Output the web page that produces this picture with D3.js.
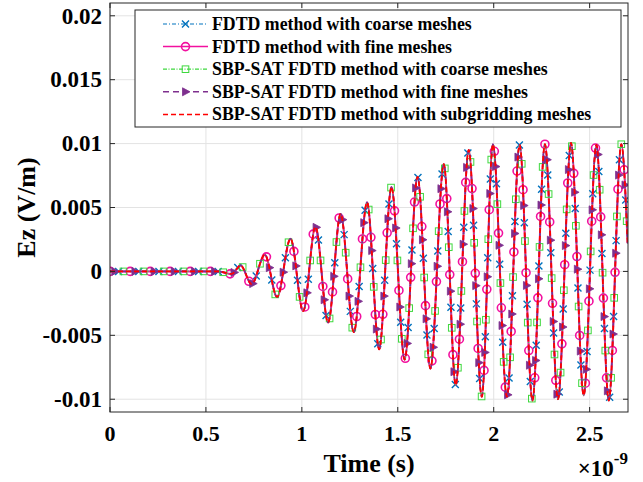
<!DOCTYPE html>
<html>
<head>
<meta charset="utf-8">
<script src="https://cdn.jsdelivr.net/npm/d3@7"></script>
<style>
  html, body { margin: 0; padding: 0; background: #fff; }
  text { font-family: "Liberation Serif", "Times New Roman", serif; font-weight: bold; fill: #000; }
</style>
</head>
<body>
<svg id="chart" width="643" height="482"></svg>
<script>
// Ez at the probe: extrema of the wave (time in ns, Ez in V/m)
const timeNs = [0, 0.30, 0.5625, 0.634, 0.681, 0.738, 0.807, 0.871, 0.941, 1.007, 1.071, 1.137,
  1.202, 1.271, 1.340, 1.403, 1.467, 1.536, 1.603, 1.670, 1.740, 1.802, 1.870, 1.938, 1.996,
  2.069, 2.135, 2.202, 2.267, 2.335, 2.403, 2.469, 2.535, 2.600, 2.665, 2.698];
const ezValues = [0, 0, 0, -0.0002, 0.00047, -0.001, 0.0013, -0.002, 0.00256, -0.0031, 0.0035, -0.004,
  0.0045, -0.00475, 0.0054, -0.0061, 0.0066, -0.0069, 0.0074, -0.0076, 0.0084, -0.0089, 0.0095, -0.0098, 0.00995,
  -0.0098, 0.0099, -0.0101, 0.00995, -0.0100, 0.01005, -0.0097, 0.0099, -0.0101, 0.00995, 0.0022];

const seriesNames = [
  "FDTD method with coarse meshes",
  "FDTD method with fine meshes",
  "SBP-SAT FDTD method with coarse meshes",
  "SBP-SAT FDTD method with fine meshes",
  "SBP-SAT FDTD method with subgridding meshes"
];
const xTicks = [0, 0.5, 1, 1.5, 2, 2.5];
const xTickLabels = ["0", "0.5", "1", "1.5", "2", "2.5"];
const yTicks = [-0.01, -0.005, 0, 0.005, 0.01, 0.015, 0.02];
const yTickLabels = ["-0.01", "-0.005", "0", "0.005", "0.01", "0.015", "0.02"];

// line styles per series (same order as seriesNames)
const styles = [
  { color: "#0072bd", dash: "4,2,1,2", width: 1.2, marker: "x",  offset: 8 },
  { color: "#f2109f", dash: null,      width: 2,   marker: "o",  offset: 0 },
  { color: "#3ed83e", dash: "4,1.5,1,1.5", width: 1.2, marker: "s", offset: 13 },
  { color: "#7e2f8e", dash: "6,4",     width: 1.6, marker: ">",  offset: 4 },
  { color: "#ff0000", dash: "5,3",     width: 1.8, marker: null, offset: 0 }
];

const svg = d3.select("#chart");
const plot = { left: 110, right: 628, top: 3, bottom: 412 };

const x = d3.scaleLinear().domain([0, 2.7]).range([plot.left, plot.right]);
const y = d3.scaleLinear().domain([-0.011, 0.021]).range([plot.bottom, plot.top]);

svg.append("rect").attr("width", 643).attr("height", 482).attr("fill", "#fff");

// grid
const grid = svg.append("g").attr("stroke", "#e3e3e3").attr("stroke-width", 1);
xTicks.forEach(t => grid.append("line").attr("x1", x(t)).attr("x2", x(t)).attr("y1", plot.top).attr("y2", plot.bottom));
yTicks.forEach(t => grid.append("line").attr("y1", y(t)).attr("y2", y(t)).attr("x1", plot.left).attr("x2", plot.right));

svg.append("defs").append("clipPath").attr("id", "clip")
  .append("rect").attr("x", plot.left).attr("y", plot.top)
  .attr("width", plot.right - plot.left).attr("height", plot.bottom - plot.top);

const data = timeNs.map((t, i) => ({ t, v: ezValues[i] }));
const line = d3.line().x(d => x(d.t)).y(d => y(d.v)).curve(d3.curveMonotoneX);

// trace the same curve into a polyline so markers can sit on it
function tracePoints() {
  const pts = [];
  let cx = 0, cy = 0;
  const ctx = {
    moveTo(a, b) { cx = a; cy = b; pts.push([a, b]); },
    lineTo(a, b) { cx = a; cy = b; pts.push([a, b]); },
    bezierCurveTo(x1, y1, x2, y2, x3, y3) {
      for (let k = 1; k <= 60; k++) {
        const u = k / 60, w = 1 - u;
        pts.push([w*w*w*cx + 3*w*w*u*x1 + 3*w*u*u*x2 + u*u*u*x3,
                  w*w*w*cy + 3*w*w*u*y1 + 3*w*u*u*y2 + u*u*u*y3]);
      }
      cx = x3; cy = y3;
    },
    closePath() {}
  };
  d3.line().x(d => x(d.t)).y(d => y(d.v)).curve(d3.curveMonotoneX).context(ctx)(data);
  return pts;
}
const curvePts = tracePoints();

function drawMarker(g, kind, cx, cy, color) {
  if (kind === "x") {
    g.append("path").attr("d", `M${cx-3.5},${cy-3.5}L${cx+3.5},${cy+3.5}M${cx-3.5},${cy+3.5}L${cx+3.5},${cy-3.5}`)
      .attr("stroke", color).attr("stroke-width", 1.4).attr("fill", "none");
  } else if (kind === "o") {
    g.append("circle").attr("cx", cx).attr("cy", cy).attr("r", 4)
      .attr("stroke", color).attr("stroke-width", 1.6).attr("fill", "none");
  } else if (kind === "s") {
    g.append("rect").attr("x", cx - 3.3).attr("y", cy - 3.3).attr("width", 6.6).attr("height", 6.6)
      .attr("stroke", color).attr("stroke-width", 1).attr("fill", "none");
  } else if (kind === ">") {
    g.append("path").attr("d", `M${cx-3},${cy-4}L${cx+4.5},${cy}L${cx-3},${cy+4}Z`)
      .attr("fill", color).attr("stroke", color).attr("stroke-width", 0.8);
  }
}

const plotG = svg.append("g").attr("clip-path", "url(#clip)");
styles.forEach(st => {
  plotG.append("path").datum(data).attr("d", line)
    .attr("fill", "none").attr("stroke", st.color).attr("stroke-width", st.width)
    .attr("stroke-dasharray", st.dash);
  if (!st.marker) return;
  // markers spaced along the curve (vertical travel weighted less)
  const mg = plotG.append("g");
  let acc = -st.offset;
  const spacing = 20;
  for (let k = 0; k < curvePts.length; k++) {
    if (k > 0) {
      const dx = curvePts[k][0] - curvePts[k-1][0], dy = (curvePts[k][1] - curvePts[k-1][1]) / 4;
      acc += Math.sqrt(dx * dx + dy * dy);
    }
    if (acc >= 0) { drawMarker(mg, st.marker, curvePts[k][0], curvePts[k][1], st.color); acc -= spacing; }
  }
});

// axes box and ticks
const axis = svg.append("g").attr("stroke", "#262626").attr("stroke-width", 1).attr("fill", "none");
axis.append("rect").attr("x", plot.left).attr("y", plot.top)
  .attr("width", plot.right - plot.left).attr("height", plot.bottom - plot.top);
xTicks.forEach(t => {
  axis.append("line").attr("x1", x(t)).attr("x2", x(t)).attr("y1", plot.bottom).attr("y2", plot.bottom - 5);
  axis.append("line").attr("x1", x(t)).attr("x2", x(t)).attr("y1", plot.top).attr("y2", plot.top + 5);
});
yTicks.forEach(t => {
  axis.append("line").attr("y1", y(t)).attr("y2", y(t)).attr("x1", plot.left).attr("x2", plot.left + 5);
  axis.append("line").attr("y1", y(t)).attr("y2", y(t)).attr("x1", plot.right).attr("x2", plot.right - 5);
});

svg.selectAll(".xtl").data(xTicks).join("text").attr("class", "xtl")
  .attr("x", d => x(d)).attr("y", 441).attr("text-anchor", "middle").style("font-size", "22px")
  .text((d, i) => xTickLabels[i]);
svg.selectAll(".ytl").data(yTicks).join("text").attr("class", "ytl")
  .attr("x", 102).attr("y", d => y(d) + 7.8).attr("text-anchor", "end").style("font-size", "23px")
  .text((d, i) => yTickLabels[i]);

svg.append("text").attr("x", (plot.left + plot.right) / 2).attr("y", 472)
  .attr("text-anchor", "middle").style("font-size", "26px").text("Time (s)");
svg.append("text").attr("transform", `translate(35,${(plot.top + plot.bottom) / 2}) rotate(-90)`)
  .attr("text-anchor", "middle").style("font-size", "26px").text("Ez (V/m)");

const expo = svg.append("text").attr("x", 628).attr("y", 476).attr("text-anchor", "end").style("font-size", "23px");
expo.append("tspan").text("\u00d710");
expo.append("tspan").attr("dy", -12).style("font-size", "17px").text("-9");

// legend
const lg = svg.append("g");
lg.append("rect").attr("x", 135).attr("y", 10).attr("width", 486).attr("height", 117)
  .attr("fill", "#fff").attr("stroke", "#262626").attr("stroke-width", 1);
seriesNames.forEach((name, i) => {
  const st = styles[i], cy = 24 + i * 22.6;
  lg.append("line").attr("x1", 163).attr("x2", 208).attr("y1", cy).attr("y2", cy)
    .attr("stroke", st.color).attr("stroke-width", Math.min(st.width, 1.5)).attr("stroke-dasharray", st.dash);
  if (st.marker) drawMarker(lg, st.marker, 185.5, cy, st.color);
  lg.append("text").attr("x", 212).attr("y", cy + 6).style("font-size", "17.8px").text(name);
});
</script>
</body>
</html>
